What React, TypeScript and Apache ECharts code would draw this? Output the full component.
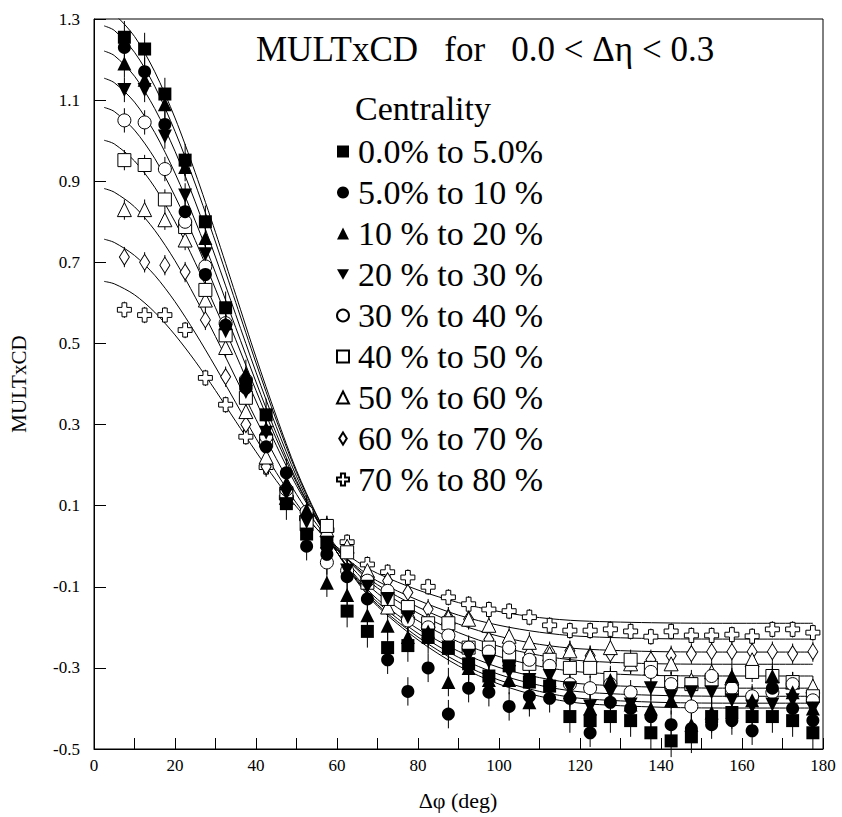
import React, { useEffect, useRef } from "react";
import * as echarts from "echarts";

const FONT = "Liberation Serif";

// Δφ bin centres (deg)
const X_BINS = [7.5, 12.5, 17.5, 22.5, 27.5, 32.5, 37.5, 42.5, 47.5, 52.5, 57.5, 62.5, 67.5, 72.5, 77.5, 82.5, 87.5, 92.5, 97.5, 102.5, 107.5, 112.5, 117.5, 122.5, 127.5, 132.5, 137.5, 142.5, 147.5, 152.5, 157.5, 162.5, 167.5, 172.5, 177.5];

const NAMES = ["0.0% to 5.0%", "5.0% to 10 %", "10 % to 20 %", "20 % to 30 %", "30 % to 40 %", "40 % to 50 %", "50 % to 60 %", "60 % to 70 %", "70 % to 80 %"];

const D0 = [1.255, 1.226, 1.115, 0.952, 0.8, 0.588, 0.4, 0.324, 0.105, 0.03, 0.01, -0.16, -0.21, -0.25, -0.245, -0.225, -0.252, -0.29, -0.32, -0.295, -0.335, -0.345, -0.42, -0.43, -0.42, -0.43, -0.46, -0.48, -0.47, -0.42, -0.41, -0.42, -0.42, -0.43, -0.46];
const D1 = [1.23, 1.17, 1.04, 0.825, 0.67, 0.545, 0.39, 0.245, 0.181, 0.0, -0.02, -0.075, -0.13, -0.28, -0.358, -0.3, -0.414, -0.35, -0.36, -0.395, -0.37, -0.375, -0.375, -0.46, -0.385, -0.4, -0.42, -0.44, -0.45, -0.44, -0.43, -0.455, -0.35, -0.4, -0.43];
const D2 = [1.19, 1.15, 1.09, 0.935, 0.76, 0.55, 0.425, 0.29, 0.155, 0.09, -0.09, -0.12, -0.17, -0.196, -0.224, -0.21, -0.335, -0.3, -0.33, -0.33, -0.385, -0.33, -0.36, -0.4, -0.33, -0.39, -0.4, -0.38, -0.44, -0.41, -0.32, -0.38, -0.32, -0.36, -0.4];
const D3 = [1.125, 1.125, 1.01, 0.865, 0.72, 0.53, 0.38, 0.28, 0.13, 0.06, -0.02, -0.06, -0.1, -0.13, -0.175, -0.22, -0.25, -0.27, -0.285, -0.31, -0.33, -0.32, -0.35, -0.395, -0.36, -0.39, -0.35, -0.37, -0.36, -0.36, -0.38, -0.395, -0.39, -0.38, -0.4];
const D4 = [1.05, 1.045, 0.93, 0.8, 0.69, 0.55, 0.41, 0.27, 0.14, 0.085, -0.04, -0.06, -0.085, -0.11, -0.183, -0.2, -0.22, -0.25, -0.26, -0.25, -0.28, -0.295, -0.34, -0.35, -0.34, -0.36, -0.31, -0.34, -0.395, -0.32, -0.35, -0.37, -0.36, -0.34, -0.38];
const D5 = [0.952, 0.94, 0.855, 0.787, 0.632, 0.52, 0.366, 0.26, 0.13, 0.054, 0.05, -0.015, -0.09, -0.13, -0.15, -0.19, -0.19, -0.25, -0.25, -0.27, -0.29, -0.28, -0.3, -0.3, -0.325, -0.28, -0.3, -0.335, -0.34, -0.33, -0.355, -0.31, -0.32, -0.335, -0.37];
const D6 = [0.83, 0.83, 0.805, 0.755, 0.607, 0.49, 0.332, 0.22, 0.12, 0.08, 0.04, 0.0, -0.06, -0.15, -0.16, -0.183, -0.175, -0.18, -0.195, -0.222, -0.237, -0.265, -0.258, -0.27, -0.25, -0.29, -0.3, -0.29, -0.33, -0.31, -0.325, -0.28, -0.32, -0.335, -0.345];
const D7 = [0.713, 0.7, 0.693, 0.676, 0.558, 0.418, 0.3, 0.196, 0.13, 0.05, 0.05, -0.01, -0.085, -0.085, -0.114, -0.155, -0.175, -0.18, -0.23, -0.25, -0.265, -0.26, -0.258, -0.27, -0.265, -0.29, -0.28, -0.27, -0.265, -0.26, -0.26, -0.26, -0.26, -0.265, -0.26];
const D8 = [0.583, 0.57, 0.57, 0.533, 0.415, 0.349, 0.27, 0.195, 0.12, 0.07, 0.04, 0.01, -0.045, -0.064, -0.077, -0.1, -0.126, -0.143, -0.156, -0.16, -0.175, -0.195, -0.208, -0.208, -0.205, -0.21, -0.223, -0.21, -0.22, -0.22, -0.218, -0.222, -0.205, -0.205, -0.213];

// error bar half-lengths per centrality class
const ERRS = [0.04, 0.035, 0.035, 0.03, 0.03, 0.025, 0.025, 0.025, 0.02];

// fit curves sampled at FIT_X
const FIT_X = [2.5, 5, 10, 15, 20, 25, 30, 35, 40, 45, 50, 55, 60, 65, 70, 80, 90, 100, 110, 120, 140, 160, 177.5];
const F0 = [1.324, 1.312, 1.257, 1.17, 1.056, 0.921, 0.774, 0.62, 0.466, 0.321, 0.187, 0.077, -0.015, -0.088, -0.148, -0.231, -0.295, -0.34, -0.37, -0.387, -0.397, -0.399, -0.399];
const F1 = [1.283, 1.272, 1.218, 1.134, 1.023, 0.893, 0.75, 0.601, 0.452, 0.311, 0.182, 0.074, -0.015, -0.085, -0.144, -0.224, -0.286, -0.33, -0.358, -0.375, -0.385, -0.387, -0.387];
const F2 = [1.221, 1.21, 1.159, 1.079, 0.974, 0.849, 0.713, 0.571, 0.429, 0.295, 0.172, 0.069, -0.015, -0.082, -0.138, -0.215, -0.274, -0.316, -0.343, -0.359, -0.368, -0.37, -0.37];
const F3 = [1.154, 1.143, 1.095, 1.02, 0.92, 0.802, 0.674, 0.539, 0.405, 0.278, 0.162, 0.065, -0.015, -0.078, -0.131, -0.204, -0.259, -0.299, -0.324, -0.339, -0.348, -0.35, -0.35];
const F4 = [1.082, 1.072, 1.026, 0.956, 0.863, 0.754, 0.634, 0.509, 0.384, 0.265, 0.157, 0.067, -0.008, -0.067, -0.116, -0.184, -0.236, -0.272, -0.296, -0.31, -0.319, -0.32, -0.32];
const F5 = [1.001, 0.992, 0.95, 0.885, 0.8, 0.699, 0.588, 0.473, 0.358, 0.249, 0.149, 0.066, -0.003, -0.058, -0.103, -0.165, -0.213, -0.247, -0.269, -0.282, -0.29, -0.291, -0.291];
const F6 = [0.882, 0.873, 0.837, 0.779, 0.704, 0.614, 0.517, 0.415, 0.313, 0.216, 0.128, 0.054, -0.006, -0.055, -0.095, -0.15, -0.192, -0.222, -0.242, -0.253, -0.26, -0.261, -0.261];
const F7 = [0.757, 0.749, 0.717, 0.668, 0.603, 0.526, 0.442, 0.354, 0.266, 0.182, 0.106, 0.043, -0.009, -0.051, -0.086, -0.133, -0.17, -0.195, -0.212, -0.222, -0.228, -0.229, -0.229];
const F8 = [0.653, 0.647, 0.62, 0.577, 0.521, 0.456, 0.384, 0.308, 0.233, 0.162, 0.097, 0.043, -0.002, -0.038, -0.067, -0.108, -0.139, -0.161, -0.176, -0.184, -0.189, -0.19, -0.19];

const Y_TICKS = [-0.5, -0.3, -0.1, 0.1, 0.3, 0.5, 0.7, 0.9, 1.1, 1.3];
const X_LABELS = [0, 20, 40, 60, 80, 100, 120, 140, 160, 180];

const DATA = [D0, D1, D2, D3, D4, D5, D6, D7, D8];
const FITS = [F0, F1, F2, F3, F4, F5, F6, F7, F8];

const CROSS = "path://M3.3,0H6.7V3.3H10V6.7H6.7V10H3.3V6.7H0V3.3H3.3Z";
const DOWN_TRI = "path://M0,0L10,0L5,8.7Z";
const TALL_DIAMOND = "path://M5,0L10,8L5,16L0,8Z";

const SYMBOLS: any[] = [
  { symbol: "rect", size: 13, fill: "#000" },
  { symbol: "circle", size: 13, fill: "#000" },
  { symbol: "triangle", size: 14, fill: "#000" },
  { symbol: DOWN_TRI, size: 14, fill: "#000" },
  { symbol: "circle", size: 13, fill: "#fff" },
  { symbol: "rect", size: 13, fill: "#fff" },
  { symbol: "triangle", size: 14, fill: "#fff" },
  { symbol: "diamond", size: [10, 16], fill: "#fff" },
  { symbol: CROSS, size: 14, fill: "#fff" },
];

export default function App() {
  const ref = useRef<HTMLDivElement>(null);
  useEffect(() => {
    if (!ref.current) return;
    const chart = echarts.init(ref.current, undefined, { renderer: "svg" });
    const series: any[] = [];
    FITS.forEach((f, i) => {
      series.push({
        name: "fit" + i,
        type: "line",
        data: FIT_X.map((x, j) => [x, f[j]]),
        showSymbol: false,
        smooth: 0.3,
        clip: true,
        silent: true,
        lineStyle: { color: "#000", width: 1 },
        z: 1,
      });
    });
    // draw open classes first, filled on top
    for (let i = 8; i >= 0; i--) {
      const d = DATA[i];
      const e = ERRS[i];
      series.push({
        name: "err" + i,
        type: "custom",
        silent: true,
        z: 2,
        data: X_BINS.map((x, j) => [x, d[j], e]),
        encode: { x: 0, y: 1 },
        renderItem: (_p: any, api: any) => {
          const x = api.value(0);
          const y = api.value(1);
          const er = api.value(2);
          const a = api.coord([x, y - er]);
          const b = api.coord([x, y + er]);
          return {
            type: "line",
            shape: { x1: a[0], y1: a[1], x2: b[0], y2: b[1] },
            style: { stroke: "#000", lineWidth: 1 },
          };
        },
      });
      const s = SYMBOLS[i];
      series.push({
        name: NAMES[i],
        type: "scatter",
        data: X_BINS.map((x, j) => [x, d[j]]),
        symbol: s.symbol,
        symbolSize: s.size,
        itemStyle: { color: s.fill, borderColor: "#000", borderWidth: s.fill === "#fff" ? 1 : 0, opacity: 1 },
        z: 3,
      });
    }
    chart.setOption({
      animation: false,
      backgroundColor: "#fff",
      textStyle: { fontFamily: FONT, color: "#000" },
      grid: { left: 94, right: 19, top: 19, bottom: 68, show: true, borderColor: "#000", borderWidth: 1, backgroundColor: "transparent" },
      xAxis: {
        type: "value",
        min: 0,
        max: 180,
        interval: 10,
        axisLine: { show: true, onZero: false, lineStyle: { color: "#000", width: 1 } },
        axisTick: { show: true, inside: true, length: 11, lineStyle: { color: "#000", width: 1 } },
        axisLabel: { customValues: X_LABELS, color: "#000", fontFamily: FONT, fontSize: 17, margin: 8 },
        splitLine: { show: false },
      },
      yAxis: {
        type: "value",
        min: -0.5,
        max: 1.3,
        axisLine: { show: true, onZero: false, lineStyle: { color: "#000", width: 1 } },
        axisTick: { show: true, inside: true, length: 12, customValues: Y_TICKS, lineStyle: { color: "#000", width: 1 } },
        axisLabel: {
          customValues: Y_TICKS, color: "#000", fontFamily: FONT, fontSize: 17, margin: 14,
          formatter: (v: number) => String(Math.round(v * 10) / 10),
        },
        splitLine: { show: false },
      },
      legend: {
        data: NAMES.map((n, i) => (i === 7 ? { name: n, icon: TALL_DIAMOND } : n)),
        orient: "vertical",
        left: 331,
        top: 126,
        itemWidth: 12,
        itemHeight: 12,
        itemGap: 0,
        selectedMode: false,
        textStyle: { fontFamily: FONT, fontSize: 34, lineHeight: 41, color: "#000", padding: [0, 0, 0, 4] },
      },
      graphic: [
        { type: "text", left: 256, top: 32, style: { text: "MULTxCD   for   0.0 < Δη < 0.3", fontFamily: FONT, fontSize: 35, fill: "#000" } },
        { type: "text", left: 355, top: 91, style: { text: "Centrality", fontFamily: FONT, fontSize: 34, fill: "#000" } },
        { type: "text", x: 458, y: 800, style: { text: "Δφ (deg)", fontFamily: FONT, fontSize: 22, fill: "#000", align: "center", verticalAlign: "middle" } },
        { type: "text", x: 19, y: 384, rotation: Math.PI / 2, style: { text: "MULTxCD", fontFamily: FONT, fontSize: 21, fill: "#000", align: "center", verticalAlign: "middle" } },
      ],
      series,
    });
    return () => chart.dispose();
  }, []);
  return <div ref={ref} style={{ position: "absolute", left: 0, top: 0, width: 842, height: 817 }} />;
}
